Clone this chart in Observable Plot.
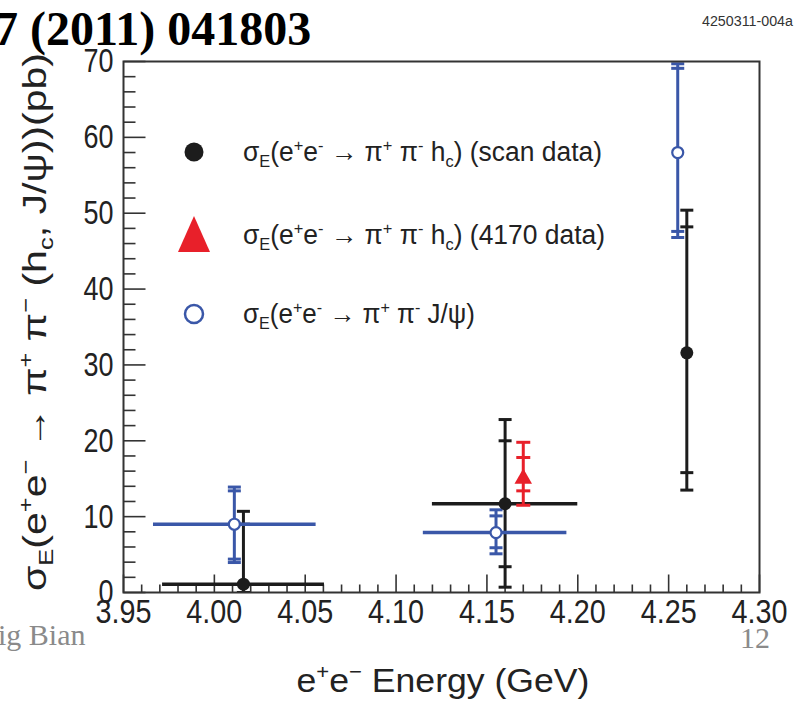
<!DOCTYPE html>
<html><head><meta charset="utf-8">
<script src="https://cdn.jsdelivr.net/npm/d3@7"></script>
<script src="https://cdn.jsdelivr.net/npm/@observablehq/plot@0.6"></script>
<style>body{margin:0;background:#fff;}</style>
</head><body><div id="chart"></div>
<script>
// ---- data ----
// scan data: sigma_E(e+e- -> pi+ pi- hc)
const scanEnergy   = [4.016, 4.160, 4.260];
const scanSigma    = [1.1, 11.7, 31.6];
const scanStatLow  = [0.0, 3.4, 15.8];
const scanStatHigh = [9.0, 20.0, 48.2];
const scanTotLow   = [0.0, 0.7, 13.5];
const scanTotHigh  = [10.7, 22.8, 50.4];
const scanBinLow   = [3.9715, 4.120, null];
const scanBinHigh  = [4.0606, 4.200, null];
// 4170 data: sigma_E(e+e- -> pi+ pi- hc)
const hcEnergy   = [4.170];
const hcSigma    = [15.0];
const hcStatLow  = [13.4];
const hcStatHigh = [17.8];
const hcTotLow   = [11.5];
const hcTotHigh  = [19.8];
// sigma_E(e+e- -> pi+ pi- J/psi)
const jpsiEnergy   = [4.011, 4.155, 4.255];
const jpsiSigma    = [9.0, 7.9, 58.0];
const jpsiStatLow  = [4.4, 5.9, 47.6];
const jpsiStatHigh = [13.4, 10.1, 69.1];
const jpsiTotLow   = [3.95, 5.1, 46.8];
const jpsiTotHigh  = [13.9, 10.9, 69.7];
const jpsiBinLow   = [3.9665, 4.115, null];
const jpsiBinHigh  = [4.056, 4.194, null];
// axes
const xTicks = [3.95, 4.00, 4.05, 4.10, 4.15, 4.20, 4.25, 4.30];
const yTicks = [0, 10, 20, 30, 40, 50, 60, 70];

const BLACK = "#1c1c1c", RED = "#e8202a", BLUE = "#3a57a8", AX = "#333";
const SANS = "'Liberation Sans',Arial,Helvetica,sans-serif";
const SERIF = "'Liberation Serif','Times New Roman',serif";

function rows(E, S, sl, sh, tl, th, bl, bh) {
  return E.map((e, i) => ({e, s: S[i], sl: sl[i], sh: sh[i], tl: tl[i], th: th[i],
    bl: bl ? bl[i] : null, bh: bh ? bh[i] : null}));
}
const scan = rows(scanEnergy, scanSigma, scanStatLow, scanStatHigh, scanTotLow, scanTotHigh, scanBinLow, scanBinHigh);
const hc = rows(hcEnergy, hcSigma, hcStatLow, hcStatHigh, hcTotLow, hcTotHigh);
const jpsi = rows(jpsiEnergy, jpsiSigma, jpsiStatLow, jpsiStatHigh, jpsiTotLow, jpsiTotHigh, jpsiBinLow, jpsiBinHigh);
const caps = (R) => R.flatMap(d => [d.sl, d.sh, d.tl, d.th].map(v => ({e: d.e, v})));

// custom symbols (size -> half length r)
const vTick = {draw(c, size) { const l = Math.sqrt(size / Math.PI); c.moveTo(0, 0); c.lineTo(0, -l); }};
const hTick = {draw(c, size) { const l = Math.sqrt(size / Math.PI); c.moveTo(0, 0); c.lineTo(l, 0); }};
const capSym = {draw(c, size) { const l = Math.sqrt(size / Math.PI); c.moveTo(-l, 0); c.lineTo(l, 0); }};

const xMinor = d3.range(0, 36).map(i => +(3.95 + i * 0.01).toFixed(2)).filter(v => !xTicks.some(t => Math.abs(t - v) < 1e-6));
const yMinor = d3.range(0, 71, 2).filter(v => v % 10 !== 0);

function errorMarks(R, color, capR, capW, lineW) {
  return [
    Plot.ruleY(R.filter(d => d.bl != null), {y: "s", x1: "bl", x2: "bh", stroke: color, strokeWidth: lineW + 0.5}),
    Plot.ruleX(R, {x: "e", y1: "tl", y2: "th", stroke: color, strokeWidth: lineW, clip: true}),
    Plot.dot(caps(R), {x: "e", y: "v", symbol: capSym, r: capR, stroke: color, fill: "none", strokeWidth: capW, clip: true})
  ];
}

const chart = Plot.plot({
  width: 800, height: 701,
  marginLeft: 123, marginRight: 41, marginTop: 61, marginBottom: 109,
  x: {domain: [3.95, 4.30]},
  y: {domain: [0, 70]},
  style: {background: "#fff", fontFamily: SANS, fontSize: "34px", color: "#222"},
  marks: [
    Plot.dot(xMinor, {x: d => d, frameAnchor: "bottom", symbol: vTick, r: 8, stroke: AX, strokeWidth: 1.6}),
    Plot.dot(xTicks, {x: d => d, frameAnchor: "bottom", symbol: vTick, r: 18, stroke: AX, strokeWidth: 1.6}),
    Plot.dot(yMinor, {y: d => d, frameAnchor: "left", symbol: hTick, r: 12, stroke: AX, strokeWidth: 1.6}),
    Plot.dot(yTicks, {y: d => d, frameAnchor: "left", symbol: hTick, r: 22, stroke: AX, strokeWidth: 1.6}),
    Plot.axisX({ticks: xTicks, tickSize: 0, tickPadding: 6, tickFormat: d => d.toFixed(2), label: null}),
    Plot.axisY({ticks: yTicks, tickSize: 0, tickPadding: 10, tickFormat: d => String(d), label: null}),
    ...errorMarks(scan, BLACK, 6.5, 3, 3),
    ...errorMarks(jpsi, BLUE, 6.5, 3, 3),
    ...errorMarks(hc, RED, 7, 3, 3),
    Plot.dot(scan, {x: "e", y: "s", r: 6.5, fill: BLACK}),
    Plot.dot(jpsi, {x: "e", y: "s", r: 5.5, fill: "#fff", stroke: BLUE, strokeWidth: 2.2}),
    Plot.dot(hc, {x: "e", y: "s", symbol: "triangle", r: 6.5, fill: RED}),
    Plot.frame({stroke: AX, strokeWidth: 2})
  ]
});
document.getElementById("chart").appendChild(chart);

const svg = d3.select(chart);
// condense tick labels like the original narrow font
svg.selectAll('g[aria-label="x-axis tick label"] text')
  .attr("textLength", 56).attr("lengthAdjust", "spacingAndGlyphs");
svg.selectAll('g[aria-label="y-axis tick label"] text').each(function() {
  d3.select(this).attr("textLength", 15 * this.textContent.length).attr("lengthAdjust", "spacingAndGlyphs");
});

// ---- texts & legend added to the same svg ----
function rich(g, x, y, segs, fs, opts = {}) {
  const t = g.append("text").attr("x", x).attr("y", y)
    .attr("font-size", fs).attr("font-family", opts.family || SANS)
    .attr("fill", opts.fill || "#222").attr("text-anchor", opts.anchor || "start");
  if (opts.transform) t.attr("transform", opts.transform);
  if (opts.weight) t.attr("font-weight", opts.weight);
  if (opts.length) t.attr("textLength", opts.length).attr("lengthAdjust", "spacingAndGlyphs");
  let shift = 0;
  for (const s of segs) {
    const [txt, kind] = Array.isArray(s) ? s : [s, null];
    const target = kind === "sup" ? -0.38 * fs : kind === "sub" ? 0.22 * fs : 0;
    const sp = t.append("tspan").text(txt).attr("dy", target - shift);
    if (kind) sp.attr("font-size", fs * 0.62);
    shift = target;
  }
  return t;
}
rich(svg, -6, 45, ["7 (2011) 041803"], 48, {family: SERIF, weight: "bold", fill: "#000"});
rich(svg, 702, 26, ["4250311-004a"], 14, {fill: "#333", length: 91});
rich(svg, -2, 645, ["ig Bian"], 30, {family: SERIF, fill: "#8a8a8a"});
rich(svg, 740, 648, ["12"], 30, {family: SERIF, fill: "#8a8a8a"});
rich(svg, 443, 692, ["e", ["+", "sup"], "e", ["\u2212", "sup"], " Energy (GeV)"], 34, {anchor: "middle", length: 293});
rich(svg, 0, 0, ["\u03c3", ["E", "sub"], "(e", ["+", "sup"], "e", ["\u2212", "sup"], " \u2192 \u03c0", ["+", "sup"], " \u03c0", ["\u2212", "sup"], " (h", ["c", "sub"], ", J/\u03c8))(pb)"], 34,
  {anchor: "middle", transform: "translate(46,322) rotate(-90)", length: 538});

const legendLabels = [
  ["\u03c3", ["E", "sub"], "(e", ["+", "sup"], "e", ["-", "sup"], " \u2192 \u03c0", ["+", "sup"], " \u03c0", ["-", "sup"], " h", ["c", "sub"], ") (scan data)"],
  ["\u03c3", ["E", "sub"], "(e", ["+", "sup"], "e", ["-", "sup"], " \u2192 \u03c0", ["+", "sup"], " \u03c0", ["-", "sup"], " h", ["c", "sub"], ") (4170 data)"],
  ["\u03c3", ["E", "sub"], "(e", ["+", "sup"], "e", ["-", "sup"], " \u2192 \u03c0", ["+", "sup"], " \u03c0", ["-", "sup"], " J/\u03c8)"]
];
const legendLengths = [359, 362, 232];
const legendY = [152, 235, 314];
const lg = svg.append("g");
lg.append("circle").attr("cx", 194).attr("cy", legendY[0]).attr("r", 9.5).attr("fill", BLACK);
lg.append("path").attr("d", `M178,${legendY[1] + 17}L210,${legendY[1] + 17}L194,${legendY[1] - 19}Z`).attr("fill", RED);
lg.append("circle").attr("cx", 194).attr("cy", legendY[2]).attr("r", 9).attr("fill", "none").attr("stroke", BLUE).attr("stroke-width", 2.5);
legendLabels.forEach((segs, i) => rich(lg, 243, legendY[i] + 9, segs, 27, {length: legendLengths[i]}));
</script>
</body></html>
